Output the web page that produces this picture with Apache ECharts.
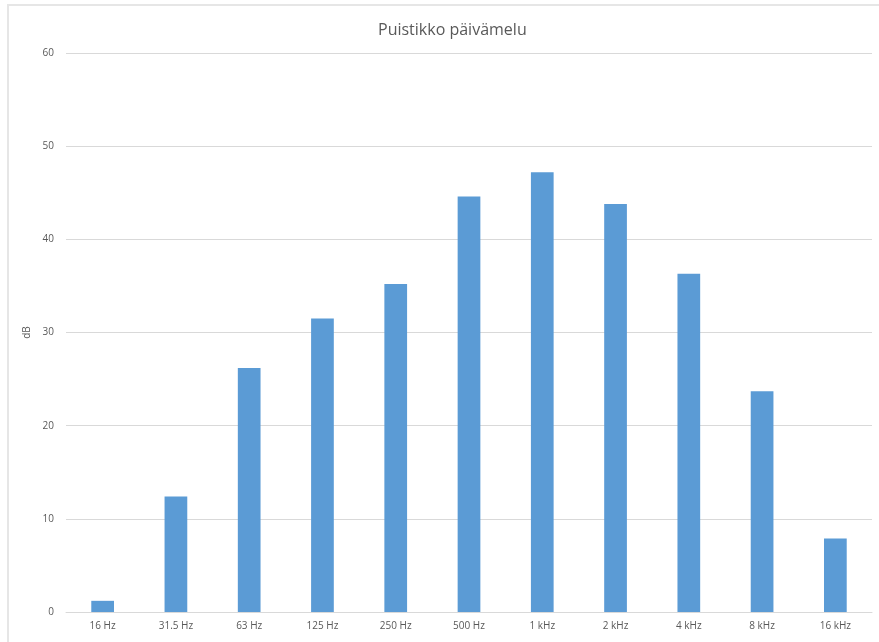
<!DOCTYPE html>
<html><head><meta charset="utf-8">
<script src="https://cdn.jsdelivr.net/npm/echarts@6/dist/echarts.min.js"></script>
<style>html,body{margin:0;padding:0;background:#fff}#c{width:879px;height:642px}
#f{position:absolute;left:7px;top:4px;width:872px;height:638px;border-top:2px solid #e6e6e6;border-left:2px solid #e6e6e6;box-sizing:border-box;pointer-events:none}</style>
</head><body><div id="c"></div><div id="f"></div>
<script>
const categories = ['16 Hz','31.5 Hz','63 Hz','125 Hz','250 Hz','500 Hz','1 kHz','2 kHz','4 kHz','8 kHz','16 kHz'];
const values = [1.2, 12.4, 26.2, 31.5, 35.2, 44.6, 47.2, 43.8, 36.3, 23.7, 7.9];
const titleText = 'Puistikko päivämelu';
const yName = 'dB';
const chart = echarts.init(document.getElementById('c'));
chart.setOption({
  animation:false,
  textStyle:{fontFamily:'Open Sans'},
  title:{text:titleText,left:373,top:17,textStyle:{fontSize:16,fontWeight:'normal',color:'#595959',fontFamily:'Open Sans'}},
  grid:{left:66,right:7,top:53,bottom:30},
  xAxis:{type:'category',data:categories,
    axisLine:{lineStyle:{color:'#d9d9d9'}},axisTick:{show:false},
    axisLabel:{color:'#595959',fontSize:10,margin:9}},
  yAxis:{type:'value',min:0,max:60,interval:10,name:yName,nameLocation:'middle',nameGap:27,
    nameTextStyle:{color:'#595959',fontSize:10},
    axisLine:{show:false},axisTick:{show:false},
    axisLabel:{color:'#595959',fontSize:10,margin:12},
    splitLine:{lineStyle:{color:'#d9d9d9'}}},
  series:[{type:'bar',data:values,barWidth:'31%',itemStyle:{color:'#5b9bd5'}}]
});
</script></body></html>
